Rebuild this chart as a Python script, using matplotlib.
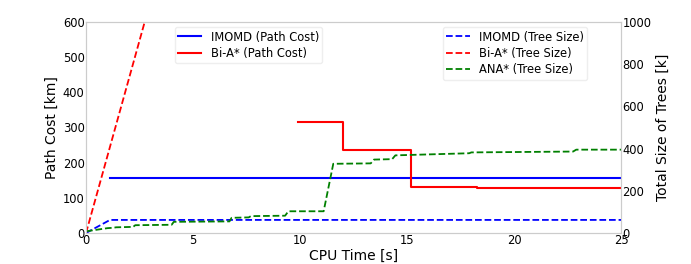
import numpy as np
import matplotlib.pyplot as plt

# path cost [km]
imomd_cost_t = [1.12, 8.5, 8.5, 25]
imomd_cost = [157, 157, 155.5, 155.5]
bia_cost_t = [9.9, 12.0, 12.0, 15.2, 15.2, 18.25, 18.25, 25]
bia_cost = [315, 315, 236, 236, 130, 130, 128, 128]

# tree size [k]
imomd_tree_t = [0, 1.12, 25]
imomd_tree = [0, 62, 62]
bia_tree_t = [0, 3.0]
bia_tree = [0, 1095]
ana_tree_t = [0, 1.0, 1.3, 1.4, 2.2, 2.3, 4.0, 4.1, 6.7, 6.8, 7.6, 7.7, 9.3, 9.45,
              11.1, 11.55, 13.3, 13.45, 14.3, 14.45, 17.9, 18.0, 22.75, 22.9, 25]
ana_tree = [8, 23, 25, 27, 29, 37, 39, 53, 55, 72, 74, 80, 82, 103, 103, 328, 330, 348,
            350, 368, 378, 382, 386, 395, 395]

spine_col = '#cccccc'

fig = plt.figure(figsize=(6.91, 2.64), dpi=100)
ax = fig.add_axes([0.1245, 0.1174, 0.7745, 0.7993])
ax2 = ax.twinx()

l1, = ax.plot(imomd_cost_t, imomd_cost, color='blue', lw=1.5, label='IMOMD (Path Cost)')
l2, = ax.plot(bia_cost_t, bia_cost, color='red', lw=1.5, label='Bi-A* (Path Cost)')

l3, = ax2.plot(imomd_tree_t, imomd_tree, color='blue', ls='--', lw=1.3, label='IMOMD (Tree Size)')
l4, = ax2.plot(bia_tree_t, bia_tree, color='red', ls='--', lw=1.3, label='Bi-A* (Tree Size)')
l5, = ax2.plot(ana_tree_t, ana_tree, color='green', ls='--', lw=1.3, label='ANA* (Tree Size)')

ax.set_xlim(0, 25)
ax.set_ylim(0, 600)
ax2.set_ylim(0, 1000)
ax.set_xticks([0, 5, 10, 15, 20, 25])
ax.set_yticks([0, 100, 200, 300, 400, 500, 600])
ax2.set_yticks([0, 200, 400, 600, 800, 1000])

ax.set_xlabel('CPU Time [s]', fontsize=10, labelpad=1)
ax.set_ylabel('Path Cost [km]', fontsize=10, labelpad=3)
ax2.set_ylabel('Total Size of Trees [k]', fontsize=10, labelpad=3)

for a in (ax, ax2):
    a.tick_params(length=0, labelsize=8.3, pad=1)
    for s in a.spines.values():
        s.set_color(spine_col)

leg_kw = dict(loc='upper left', fontsize=8.3, framealpha=1, edgecolor='#eeeeee',
              labelspacing=0.3, borderpad=0.3, borderaxespad=0)
ax.legend(handles=[l1, l2], bbox_to_anchor=(0.166, 0.976), **leg_kw)
ax2.legend(handles=[l3, l4, l5], bbox_to_anchor=(0.667, 0.976), **leg_kw)

fig.savefig('out.png', dpi=100)
